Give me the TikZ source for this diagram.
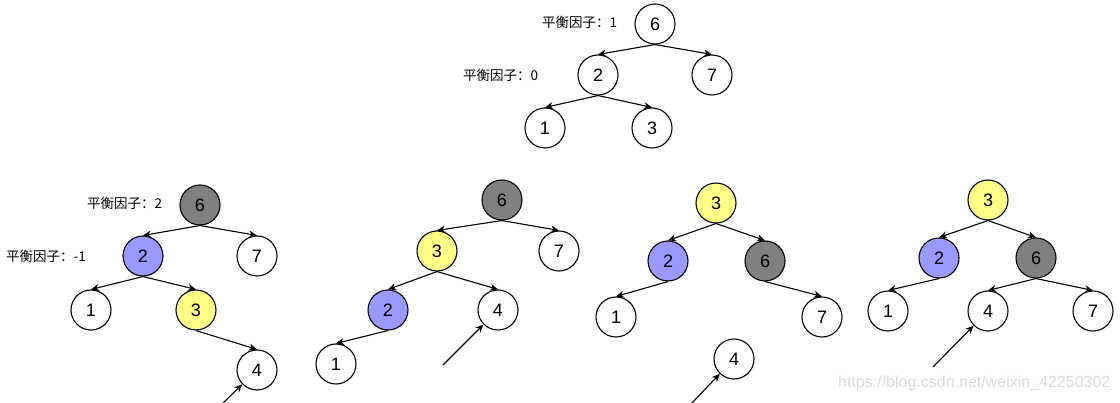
\documentclass[tikz,border=0pt]{standalone}
\usepackage{fontspec}
\setmainfont{Liberation Sans}
\newfontfamily\cjk{Noto Sans CJK SC}
\usetikzlibrary{arrows.meta}
\definecolor{ngray}{HTML}{808080}
\definecolor{nblue}{HTML}{9999FF}
\definecolor{nyellow}{HTML}{FFFF88}
\tikzset{
  tn/.style={circle,draw,line width=1.1pt,minimum size=40pt,inner sep=0pt,font=\fontsize{18}{18}\selectfont,fill=white},
  gn/.style={tn,fill=ngray},
  bn/.style={tn,fill=nblue},
  yn/.style={tn,fill=nyellow},
  ed/.style={line width=1.1pt,-{Stealth[length=8pt,width=7pt,inset=2.5pt]}},
  bf/.style={anchor=west,inner sep=0pt,font=\cjk\fontsize{13.5}{14}\selectfont},
}
\begin{document}
\begin{tikzpicture}[x=1pt,y=-1pt]
\useasboundingbox (0,0) rectangle (1120,403);
% tree 1
\node[tn] (a6) at (655,24) {6};
\node[tn] (a2) at (598,75) {2};
\node[tn] (a7) at (712,75) {7};
\node[tn] (a1) at (545,128) {1};
\node[tn] (a3) at (652,128) {3};
\node[bf] (la1) at (542,22) {平衡因子：1};
\node[bf] (la2) at (463,75) {平衡因子：0};
\draw[ed] (a6.south) -- (a2.north);
\draw[ed] (a6.south) -- (a7.north);
\draw[ed] (a2.south) -- (a1.north);
\draw[ed] (a2.south) -- (a3.north);
% tree 2
\node[gn] (b6) at (200,205) {6};
\node[bn] (b2) at (143,256) {2};
\node[tn] (b7) at (257,256) {7};
\node[tn] (b1) at (91,310) {1};
\node[yn] (b3) at (196,310) {3};
\node[tn] (b4) at (257,370) {4};
\node[bf] (lb1) at (87,203) {平衡因子：2};
\node[bf] (lb2) at (6,256) {平衡因子：-1};
\coordinate (bs) at (221,405);
\draw[ed] (b6.south) -- (b2.north);
\draw[ed] (b6.south) -- (b7.north);
\draw[ed] (b2.south) -- (b1.north);
\draw[ed] (b2.south) -- (b3.north);
\draw[ed] (b3.south) -- (b4.north);
\draw[ed] (bs) -- (b4);
% tree 3
\node[gn] (c6) at (502,200) {6};
\node[yn] (c3) at (437,251) {3};
\node[tn] (c7) at (559,251) {7};
\node[bn] (c2) at (388,310) {2};
\node[tn] (c4) at (498,310) {4};
\node[tn] (c1) at (336,364) {1};
\coordinate (cs) at (443,365);
\draw[ed] (c6.south) -- (c3.north);
\draw[ed] (c6.south) -- (c7.north);
\draw[ed] (c3.south) -- (c2.north);
\draw[ed] (c3.south) -- (c4.north);
\draw[ed] (c2.south) -- (c1.north);
\draw[ed] (cs) -- (c4);
% tree 4
\node[yn] (d3) at (716,203) {3};
\node[bn] (d2) at (668,261) {2};
\node[gn] (d6) at (765,261) {6};
\node[tn] (d1) at (616,317) {1};
\node[tn] (d7) at (822,317) {7};
\node[tn] (d4) at (734,359) {4};
\coordinate (ds) at (690,405);
\draw[ed] (d3.south) -- (d2.north);
\draw[ed] (d3.south) -- (d6.north);
\draw[ed] (d2.south) -- (d1.north);
\draw[ed] (d6.south) -- (d7.north);
\draw[ed] (ds) -- (d4);
% tree 5
\node[yn] (e3) at (988,200) {3};
\node[bn] (e2) at (939,258) {2};
\node[gn] (e6) at (1036,258) {6};
\node[tn] (e1) at (888,311) {1};
\node[tn] (e4) at (988,311) {4};
\node[tn] (e7) at (1093,311) {7};
\coordinate (es) at (933,367);
\draw[ed] (e3.south) -- (e2.north);
\draw[ed] (e3.south) -- (e6.north);
\draw[ed] (e2.south) -- (e1.north);
\draw[ed] (e6.south) -- (e4.north);
\draw[ed] (e6.south) -- (e7.north);
\draw[ed] (es) -- (e4);
% watermark
\node[anchor=west,inner sep=0pt,text=black!14,font=\fontsize{16}{16}\selectfont] (wm) at (838,383) {https://blog.csdn.net/weixin\_42250302};
\end{tikzpicture}
\end{document}
